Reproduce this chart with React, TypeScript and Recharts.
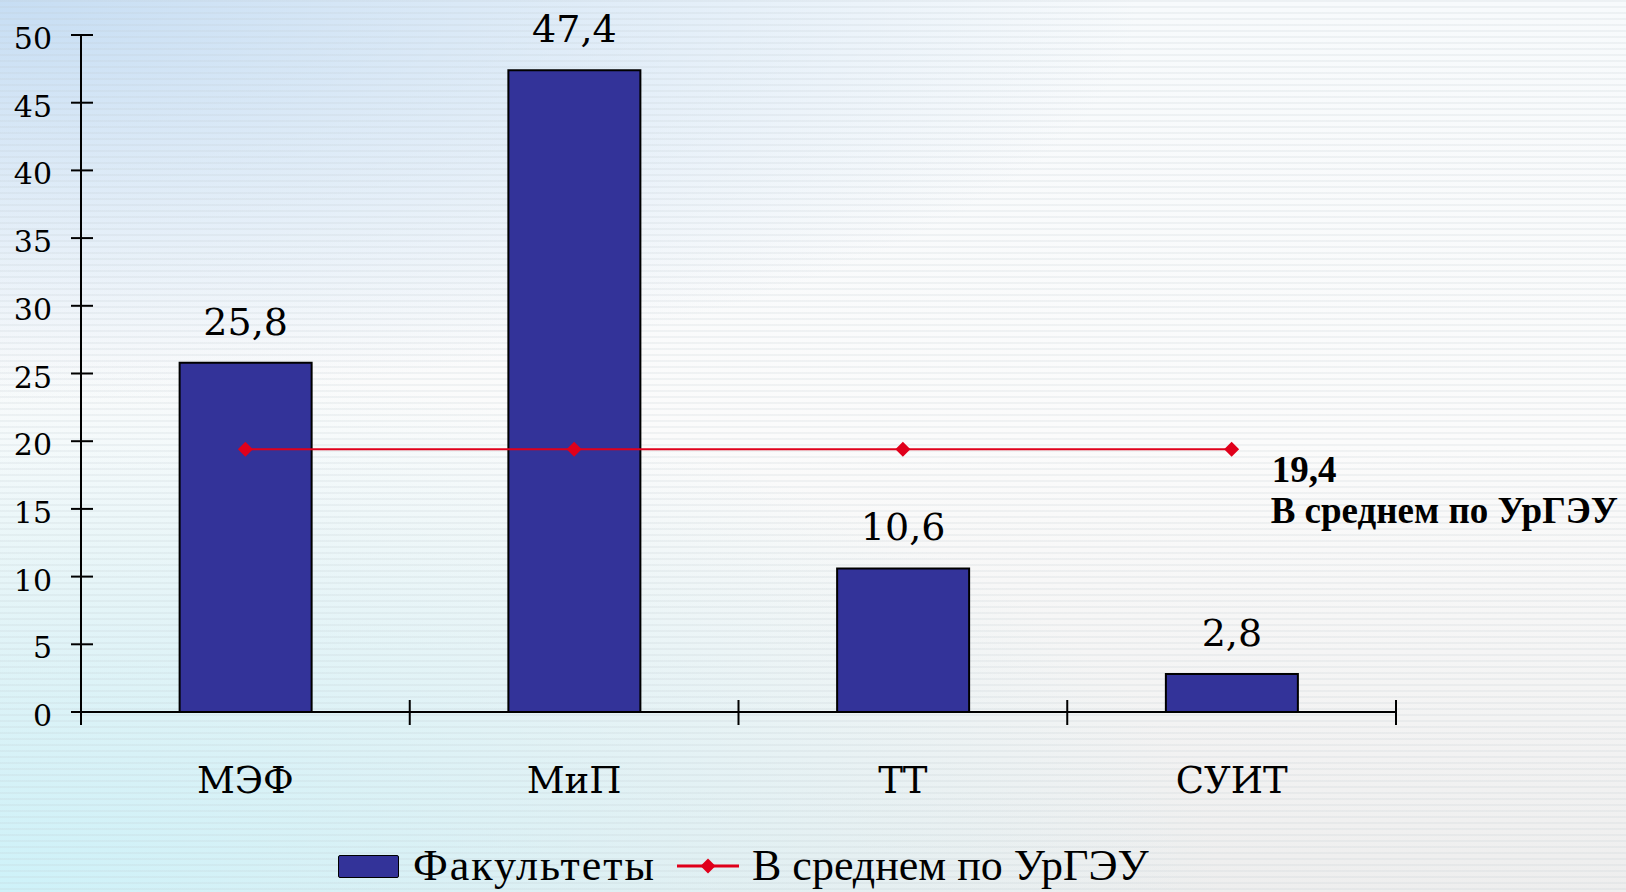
import React from "react";
import {
  Bar,
  ComposedChart,
  LabelList,
  Legend,
  Line,
  XAxis,
  YAxis,
} from "recharts";

const categories = ["МЭФ", "МиП", "ТТ", "СУИТ"];
const facultyValues = [25.8, 47.4, 10.6, 2.8];
const averageValues = [19.4, 19.4, 19.4, 19.4];
const yTicks = [0, 5, 10, 15, 20, 25, 30, 35, 40, 45, 50];
const seriesNames = ["Факультеты", "В среднем по УрГЭУ"];

const BAR_COLOR = "#333399";
const LINE_COLOR = "#e0001b";
const SERIF = "'DejaVu Serif', serif";
const TIMES = "'Liberation Serif', serif";

const data = categories.map((name, i) => ({
  name,
  faculty: facultyValues[i],
  avg: averageValues[i],
}));

const fmt = (v: number) => v.toFixed(1).replace(".", ",");

const YTick = ({ x, y, payload }: any) => (
  <g>
    <line x1={x - 10} x2={x + 12} y1={y} y2={y} stroke='#000' strokeWidth={2} />
    <text x={x - 29} y={y + 14} textAnchor='end' fontFamily={SERIF} fontSize={30} fill='#000'>
      {payload.value}
    </text>
  </g>
);

const XTick = ({ x, y, payload, index }: any) => {
  const half = payload.offset || 164;
  return (
    <g>
      <line x1={x - half} x2={x - half} y1={y - 12} y2={y + 13} stroke='#000' strokeWidth={2} />
      {index === categories.length - 1 && (
        <line x1={x + half} x2={x + half} y1={y - 12} y2={y + 13} stroke='#000' strokeWidth={2} />
      )}
      <text x={x} y={y + 81} textAnchor='middle' fontFamily={SERIF} fontSize={37} fill='#000'>
        {payload.value}
      </text>
    </g>
  );
};

const Diamond = ({ cx, cy }: any) => {
  if (cx == null || cy == null) return null;
  return (
    <polygon
      points={`${cx - 7.5},${cy} ${cx},${cy - 7.5} ${cx + 7.5},${cy} ${cx},${cy + 7.5}`}
      fill={LINE_COLOR}
    />
  );
};

// value + series name printed to the right of the last point
const AvgLabel = ({ x, y, value, index }: any) => {
  if (index !== averageValues.length - 1) return null;
  return (
    <g>
      <text x={x + 40} y={y + 33} fontFamily={TIMES} fontWeight='bold' fontSize={37} fill='#000'>
        {fmt(value)}
      </text>
      <text x={x + 39} y={y + 74} fontFamily={TIMES} fontWeight='bold' fontSize={37} fill='#000'>
        {seriesNames[1]}
      </text>
    </g>
  );
};

const LegendContent = () => (
  <div
    style={{
      display: "flex",
      alignItems: "center",
      height: 30,
      fontFamily: TIMES,
      fontSize: 44,
      color: "#000",
      whiteSpace: "nowrap",
    }}>
    <div
      style={{
        width: 59,
        height: 21,
        background: BAR_COLOR,
        border: "1px solid #000",
        borderRadius: 2,
        marginRight: 14,
      }}
    />
    <span style={{ lineHeight: "30px", letterSpacing: 2 }}>{seriesNames[0]}</span>
    <svg width={62} height={30} style={{ marginLeft: 21, marginRight: 13 }}>
      <line x1={0} x2={62} y1={15} y2={15} stroke={LINE_COLOR} strokeWidth={3} />
      <polygon points='23.5,15 31,7.5 38.5,15 31,22.5' fill={LINE_COLOR} />
    </svg>
    <span style={{ lineHeight: "30px" }}>{seriesNames[1]}</span>
  </div>
);

export default function App() {
  return (
    <div
      style={{
        position: "absolute",
        left: 0,
        top: 0,
        width: 1626,
        height: 892,
        overflow: "hidden",
        background: [
          "repeating-linear-gradient(to bottom, rgba(190,200,205,0.18) 0px, rgba(190,200,205,0.18) 2px, rgba(255,255,255,0) 2px, rgba(255,255,255,0) 6px)",
          "radial-gradient(ellipse 70% 45% at 0% 0%, rgba(196,220,243,0.95), rgba(255,255,255,0) 100%)",
          "radial-gradient(ellipse 75% 60% at 0% 100%, rgba(206,242,249,1), rgba(255,255,255,0) 100%)",
          "linear-gradient(to bottom, #f7fafc 0%, #fbfbfb 50%, #eeeeee 100%)",
        ].join(", "),
      }}>
      <ComposedChart
        width={1626}
        height={892}
        data={data}
        barCategoryGap='30%'
        margin={{ top: 35, right: 230, bottom: 80, left: 0 }}>
        <XAxis
          dataKey='name'
          height={100}
          axisLine={{ stroke: "#000", strokeWidth: 2 }}
          tickLine={false}
          tickSize={0}
          tickMargin={0}
          tick={<XTick />}
          interval={0}
        />
        <YAxis
          width={81}
          domain={[0, 50]}
          ticks={yTicks}
          axisLine={{ stroke: "#000", strokeWidth: 2 }}
          tickLine={false}
          tickSize={0}
          tickMargin={0}
          tick={<YTick />}
          interval={0}
        />
        <Legend
          verticalAlign='middle'
          align='center'
          layout='horizontal'
          content={<LegendContent />}
          wrapperStyle={{ top: 851, left: 338, width: "auto" }}
        />
        <Bar
          dataKey='faculty'
          name={seriesNames[0]}
          fill={BAR_COLOR}
          stroke='#000'
          strokeWidth={2}
          isAnimationActive={false}>
          <LabelList
            dataKey='faculty'
            position='top'
            offset={28}
            formatter={(v: any) => fmt(Number(v))}
            style={{ fontFamily: SERIF, fontSize: 38, fill: "#000" }}
          />
        </Bar>
        <Line
          dataKey='avg'
          name={seriesNames[1]}
          stroke={LINE_COLOR}
          strokeWidth={2}
          dot={<Diamond />}
          activeDot={false}
          isAnimationActive={false}>
          <LabelList dataKey='avg' content={<AvgLabel />} />
        </Line>
      </ComposedChart>
    </div>
  );
}
